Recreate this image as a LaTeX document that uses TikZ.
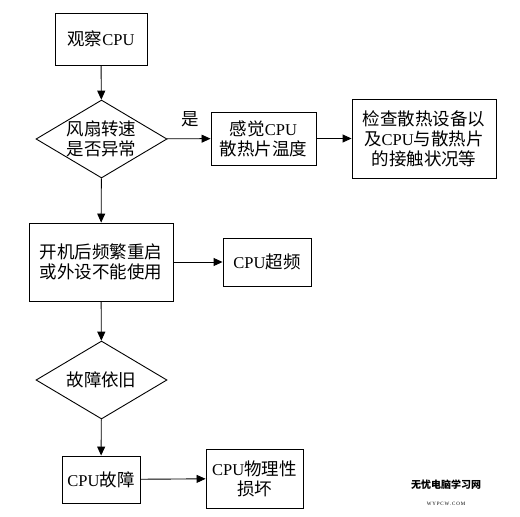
\documentclass[tikz,border=0pt]{standalone}
\usepackage{fontspec}
\setmainfont{Liberation Serif}
\newfontfamily\cjk[Scale=1.06]{Noto Sans CJK SC}
\newfontfamily\cjkwm{Noto Sans CJK SC}
\usetikzlibrary{shapes.geometric,arrows.meta}
\begin{document}
\begin{tikzpicture}[x=1pt,y=-1pt,
  every node/.style={font=\fontsize{16.5}{20}\selectfont, align=center, inner sep=0pt},
  boxnode/.style={draw, line width=0.9pt, rectangle},
  decnode/.style={draw, line width=0.9pt, diamond},
  conn/.style={draw, line width=0.9pt, -{Triangle[length=9pt,width=8pt]}}]
\useasboundingbox (0,0) rectangle (520,517);
\node[boxnode, minimum width=92pt, minimum height=52pt] (obs) at (101,39) {{\cjk 观察}CPU};
\node[decnode, minimum width=131pt, minimum height=78pt, aspect=1.68] (fan) at (101.5,139) {};
\node (fant) at (101.5,139) {{\cjk 风扇转速}\\{\cjk 是否异常}};
\node[boxnode, minimum width=105pt, minimum height=53pt] (feel) at (263.5,138.5) {{\cjk 感觉}CPU\\{\cjk 散热片温度}};
\node[boxnode, minimum width=144pt, minimum height=79pt] (check) at (424,138.5) {{\cjk 检查散热设备以}\\{\cjk 及}CPU{\cjk 与散热片}\\{\cjk 的接触状况等}};
\node (yes) at (190,119) {\cjk 是};
\node[boxnode, minimum width=144pt, minimum height=78pt] (boot) at (101,262) {{\cjk 开机后频繁重启}\\{\cjk 或外设不能使用}};
\node[boxnode, minimum width=88pt, minimum height=48pt] (oc) at (267,262) {CPU{\cjk 超频}};
\node[decnode, minimum width=131pt, minimum height=78pt, aspect=1.68] (still) at (101.5,380) {};
\node (stillt) at (101.5,380) {\cjk 故障依旧};
\node[boxnode, minimum width=78pt, minimum height=47pt] (fault) at (101,479.5) {CPU{\cjk 故障}};
\node[boxnode, minimum width=97pt, minimum height=59pt] (dmg) at (254.5,478.5) {CPU{\cjk 物理性}\\{\cjk 损坏}};
\node (wm) at (446,493) {{\cjkwm\bfseries\fontsize{10}{10}\selectfont 无忧电脑学习网}\\[-3pt]{\fontsize{5}{6}\selectfont W\,Y\,P\,C\,W\,.\,C\,O\,M}};
\path[conn] (obs) -- (fan);
\path[conn] (fan) -- (feel);
\path[conn] (feel) -- (check);
\path[conn] (fan) -- (boot);
\path[conn] (boot) -- (oc);
\path[conn] (boot) -- (still);
\path[conn] (still) -- (fault);
\path[conn] (fault) -- (dmg);
\end{tikzpicture}
\end{document}
